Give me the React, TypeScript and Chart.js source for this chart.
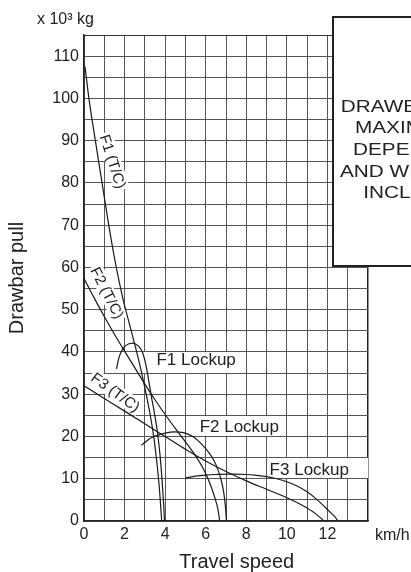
import React, { useEffect, useRef } from "react";
import { Chart, registerables } from "chart.js";

Chart.register(...registerables);

const FONT = "'Liberation Sans', Arial, Helvetica, sans-serif";

// ---- data (travel speed km/h, drawbar pull x10^3 kg) ----
const f1TcSpeed = [0.05, 0.25, 0.56, 0.89, 1.22, 1.55, 1.9, 2.3, 2.7, 3.0, 3.25, 3.45, 3.6, 3.72, 3.83];
const f1TcPull = [107.5, 99.7, 90, 80, 70, 61, 53, 45.5, 38, 31.5, 25.5, 19.5, 13.5, 7.5, 0];

const f2TcSpeed = [0, 0.5, 1.0, 1.5, 2.0, 2.5, 3.0, 3.5, 4.0, 4.5, 5.0, 5.5, 5.9, 6.2, 6.45, 6.6, 6.69];
const f2TcPull = [57.4, 52.8, 48.4, 44.2, 40.2, 36.3, 32.4, 28.7, 25.2, 21.9, 18.7, 15.4, 12.2, 9, 5.5, 2.8, 0];

const f3TcSpeed = [0, 1, 2, 3, 4, 5, 6, 7, 8, 9, 10, 10.8, 11.4, 11.83];
const f3TcPull = [32, 29, 26, 23, 20, 17, 14.2, 11.7, 9.5, 7.5, 5.5, 3.6, 1.8, 0];

const f1LockSpeed = [1.6, 1.72, 1.86, 2.05, 2.4, 2.7, 2.9, 3.05, 3.18, 3.32, 3.48, 3.62, 3.75, 3.85, 3.92, 3.97];
const f1LockPull = [36, 38.6, 40.3, 41.5, 42.1, 41.3, 39.7, 37, 33.5, 29.5, 25.3, 21, 15.5, 9.5, 4.5, 0];

const f2LockSpeed = [2.83, 3.1, 3.5, 4.0, 4.45, 4.9, 5.4, 5.8, 6.2, 6.5, 6.72, 6.88, 6.97, 7.02];
const f2LockPull = [17.9, 19, 20.1, 20.8, 21.1, 20.9, 19.9, 18.2, 15.9, 13.4, 10.4, 7, 3.5, 0];

const f3LockSpeed = [5.0, 5.5, 6.0, 6.5, 7.0, 7.5, 8.0, 8.5, 9.0, 9.5, 10.0, 10.5, 11.0, 11.5, 11.9, 12.2, 12.4, 12.52];
const f3LockPull = [10.2, 10.6, 10.85, 11.0, 11.1, 11.1, 11.0, 10.8, 10.5, 10.0, 9.3, 8.3, 6.9, 5.0, 3.2, 1.8, 0.8, 0];

const seriesNames = ["F1 (T/C)", "F2 (T/C)", "F3 (T/C)", "F1 Lockup", "F2 Lockup", "F3 Lockup"];
const seriesSpeeds = [f1TcSpeed, f2TcSpeed, f3TcSpeed, f1LockSpeed, f2LockSpeed, f3LockSpeed];
const seriesPulls = [f1TcPull, f2TcPull, f3TcPull, f1LockPull, f2LockPull, f3LockPull];

const xTickLabels = ["0", "2", "4", "6", "8", "10", "12"];
const yTickLabels = ["0", "10", "20", "30", "40", "50", "60", "70", "80", "90", "100", "110"];

const noteLines = [
  "DRAWBAR PULL AT",
  "MAXIMUM TRACTION",
  "DEPENDS ON GROUND",
  "AND WEIGHT OF TRACTOR",
  "INCLUDING BLADE",
];

// ---- annotation layout (labels placed in data coordinates) ----
const tcLabels = [
  { text: "F1 (T/C)", x: 1.43, y: 85.1, angle: 72 },
  { text: "F2 (T/C)", x: 1.15, y: 54.0, angle: 63 },
  { text: "F3 (T/C)", x: 1.56, y: 30.5, angle: 36 },
];
const lockLabels = [
  { text: "F1 Lockup", x: 3.57, y: 36.8, box: [1, 8, 35, 40] },
  { text: "F2 Lockup", x: 5.7, y: 21.1, box: [5, 10, 20, 25] },
  { text: "F3 Lockup", x: 9.15, y: 10.9, box: [9, 14, 10, 15] },
];
const noteLefts = [340.7, 355, 353, 340, 363.3];
const noteBaselines = [111.7, 133.3, 155, 176.7, 198.3];

const annotatePlugin = {
  id: "annotate",
  beforeDatasetsDraw(chart: any) {
    const { ctx } = chart;
    const xs = chart.scales.x;
    const ys = chart.scales.y;
    ctx.save();
    ctx.fillStyle = "#ffffff";
    for (const l of lockLabels) {
      const [x0, x1, y0, y1] = l.box;
      const L = Math.floor(xs.getPixelForValue(x0));
      const R = Math.floor(xs.getPixelForValue(x1));
      const T = Math.floor(ys.getPixelForValue(y1));
      const B = Math.floor(ys.getPixelForValue(y0));
      ctx.fillRect(L + 1, T + 1, R - L - 1, B - T - 1);
    }
    ctx.font = `15px ${FONT}`;
    for (const l of tcLabels) {
      const cx = xs.getPixelForValue(l.x);
      const cy = ys.getPixelForValue(l.y);
      const w = ctx.measureText(l.text).width;
      ctx.save();
      ctx.translate(cx, cy);
      ctx.rotate((l.angle * Math.PI) / 180);
      ctx.fillRect(-w / 2 - 2, -8, w + 4, 16);
      ctx.restore();
    }
    ctx.restore();
  },
  afterDatasetsDraw(chart: any) {
    const { ctx } = chart;
    const xs = chart.scales.x;
    const ys = chart.scales.y;
    ctx.save();
    ctx.fillStyle = "#222";
    ctx.textBaseline = "middle";
    ctx.textAlign = "center";
    ctx.font = `15px ${FONT}`;
    for (const l of tcLabels) {
      const cx = xs.getPixelForValue(l.x);
      const cy = ys.getPixelForValue(l.y);
      ctx.save();
      ctx.translate(cx, cy);
      ctx.rotate((l.angle * Math.PI) / 180);
      ctx.fillText(l.text, 0, 1);
      ctx.restore();
    }
    ctx.textAlign = "left";
    ctx.textBaseline = "alphabetic";
    ctx.font = `17px ${FONT}`;
    for (const l of lockLabels) {
      ctx.fillText(l.text, xs.getPixelForValue(l.x), ys.getPixelForValue(l.y));
    }
    // unit labels and x title
    ctx.font = `16px ${FONT}`;
    ctx.fillText("x 10\u00b3 kg", 37, 24);
    ctx.fillText("km/h", 375, 540);
    ctx.font = `20px ${FONT}`;
    ctx.textAlign = "center";
    ctx.fillText("Travel speed", 236.7, 567.5);
    ctx.restore();
  },
  afterDraw(chart: any) {
    const { ctx } = chart;
    ctx.save();
    ctx.fillStyle = "#ffffff";
    ctx.strokeStyle = "#222";
    ctx.lineWidth = 2;
    ctx.fillRect(333, 17, 200, 249);
    ctx.strokeRect(333, 17, 200, 249);
    ctx.fillStyle = "#222";
    ctx.font = `17px ${FONT}`;
    ctx.textAlign = "left";
    ctx.textBaseline = "alphabetic";
    noteLines.forEach((t, i) => {
      ctx.save();
      ctx.translate(noteLefts[i], noteBaselines[i]);
      ctx.scale(1.22, 1);
      ctx.fillText(t, 0, 0);
      ctx.restore();
    });
    ctx.restore();
  },
};

export default function App() {
  const ref = useRef<HTMLCanvasElement | null>(null);

  useEffect(() => {
    document.body.style.margin = "0";
    const canvas = ref.current;
    if (!canvas) return;
    const datasets = seriesNames.map((name, i) => ({
      label: name,
      data: seriesSpeeds[i].map((s, j) => ({ x: s, y: seriesPulls[i][j] })),
      showLine: true,
      borderColor: "#1a1a1a",
      borderWidth: 1.2,
      pointRadius: 0,
      fill: false,
      cubicInterpolationMode: "monotone" as const,
    }));
    const chart = new Chart(canvas, {
      type: "scatter",
      data: { datasets },
      plugins: [annotatePlugin],
      options: {
        animation: false,
        responsive: false,
        devicePixelRatio: 1,
        layout: { padding: { left: 0, top: 35, right: 43, bottom: 0 } },
        plugins: { legend: { display: false }, tooltip: { enabled: false } },
        scales: {
          x: {
            type: "linear",
            min: 0,
            max: 14,
            afterFit: (s: any) => {
              s.height = 51;
            },
            ticks: {
              stepSize: 1,
              autoSkip: false,
              maxRotation: 0,
              padding: 4,
              color: "#222",
              font: { family: FONT, size: 16 },
              callback: (v: any) => {
                const idx = xTickLabels.indexOf(String(v));
                return idx >= 0 ? xTickLabels[idx] : "";
              },
            },
            grid: {
              drawTicks: false,
              color: (c: any) => (c.tick && c.tick.value === 14 ? "#222" : "#555"),
              lineWidth: (c: any) => (c.tick && c.tick.value === 14 ? 1.5 : 1),
            },
            border: { color: "#222", width: 1.5 },
          },
          y: {
            type: "linear",
            min: 0,
            max: 115,
            afterFit: (s: any) => {
              s.width = 84;
            },
            ticks: {
              stepSize: 5,
              autoSkip: false,
              padding: 5,
              color: "#222",
              font: { family: FONT, size: 16 },
              callback: (v: any) => {
                const idx = yTickLabels.indexOf(String(v));
                return idx >= 0 ? yTickLabels[idx] : "";
              },
            },
            grid: {
              drawTicks: false,
              color: (c: any) => (c.tick && c.tick.value === 115 ? "#333" : "#555"),
              lineWidth: 1,
            },
            border: { color: "#222", width: 1.5 },
            title: {
              display: true,
              text: "Drawbar pull",
              color: "#222",
              font: { family: FONT, size: 20 },
              padding: { top: 5, bottom: 0 },
            },
          },
        },
      },
    });
    return () => chart.destroy();
  }, []);

  return (
    <div style={{ width: 411, height: 572 }}>
      <canvas ref={ref} width={411} height={572} style={{ display: "block", width: 411, height: 572 }} />
    </div>
  );
}
